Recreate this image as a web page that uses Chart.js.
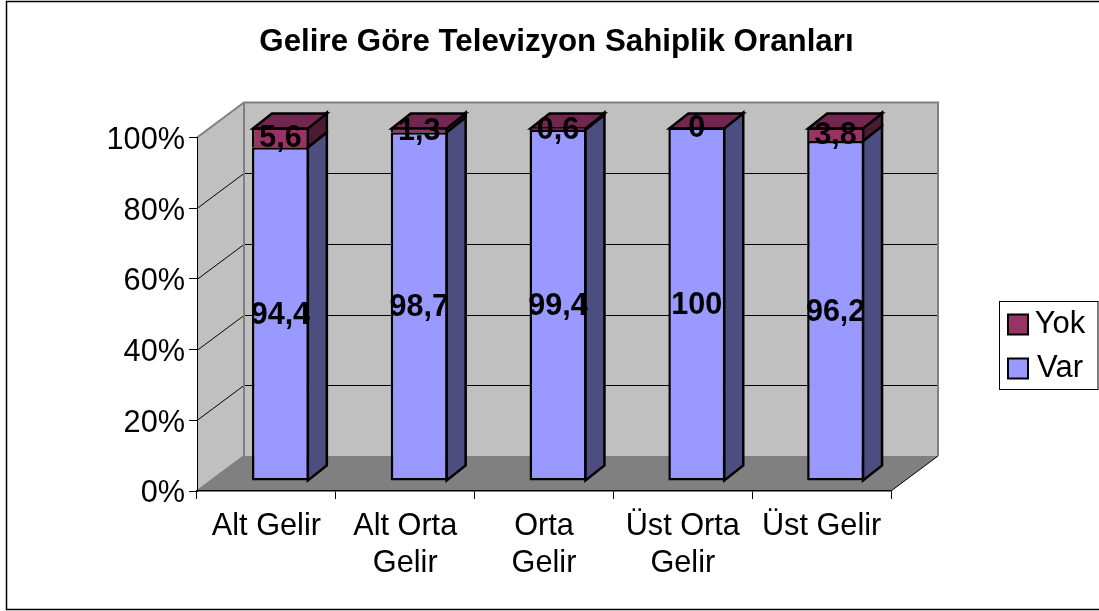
<!DOCTYPE html>
<html lang="tr">
<head>
<meta charset="utf-8">
<title>Gelire Göre Televizyon Sahiplik Oranları</title>
<style>html,body{margin:0;padding:0;background:#fff}canvas{display:block}</style>
<script src="https://cdn.jsdelivr.net/npm/chart.js@4"></script>
</head>
<body>
<canvas id="c" width="1099" height="611"></canvas>
<script>
const chartTitle = 'Gelire Göre Televizyon Sahiplik Oranları';
const categories = [['Alt Gelir'], ['Alt Orta', 'Gelir'], ['Orta', 'Gelir'], ['Üst Orta', 'Gelir'], ['Üst Gelir']];
const varValues = [94.4, 98.7, 99.4, 100, 96.2];
const yokValues = [5.6, 1.3, 0.6, 0, 3.8];
const yTicks = [0, 20, 40, 60, 80, 100];

const FONT = '"Liberation Sans", Arial, sans-serif';
const WALL = {dx: 47, dy: 35};      // depth of the plot box
const FRONT = {dx: 14, dy: 10};     // bars stand this far behind the front edge
const BAR = {dx: 19, dy: 15};       // depth of each bar
const LINE = 2.5;

const fmt = v => String(v).replace('.', ',');

function poly(ctx, pts, fill, stroke, lw) {
  ctx.beginPath();
  pts.forEach((p, i) => i ? ctx.lineTo(p[0], p[1]) : ctx.moveTo(p[0], p[1]));
  ctx.closePath();
  if (fill) { ctx.fillStyle = fill; ctx.fill(); }
  if (stroke) { ctx.strokeStyle = stroke; ctx.lineWidth = lw; ctx.lineJoin = 'miter'; ctx.stroke(); }
}

const box3d = {
  id: 'box3d',
  beforeDraw(chart) {
    const {ctx, chartArea: a, scales} = chart;
    const {left: L, right: R, top: T, bottom: B} = a;
    const {dx, dy} = WALL;
    ctx.save();
    ctx.fillStyle = '#fff';
    ctx.fillRect(0, 0, chart.width, chart.height);

    // outer frame
    ctx.strokeStyle = '#000';
    ctx.lineWidth = 1.5;
    ctx.beginPath();
    ctx.moveTo(1100, 1.5); ctx.lineTo(6.5, 1.5); ctx.lineTo(6.5, 609.5); ctx.lineTo(1100, 609.5);
    ctx.stroke();

    // walls and floor
    poly(ctx, [[L + dx, T - dy], [R + dx, T - dy], [R + dx, B - dy], [L + dx, B - dy]], '#c0c0c0');
    poly(ctx, [[L, T], [L + dx, T - dy], [L + dx, B - dy], [L, B]], '#c0c0c0');
    poly(ctx, [[L, B], [L + dx, B - dy], [R + dx, B - dy], [R, B]], '#808080');

    // grid lines on side wall and back wall
    ctx.strokeStyle = '#000';
    ctx.lineWidth = 1;
    yTicks.slice(1, -1).forEach(v => {
      const y = Math.round(scales.y.getPixelForValue(v)) + 0.5;
      ctx.beginPath();
      ctx.moveTo(L, y); ctx.lineTo(L + dx, y - dy); ctx.lineTo(R + dx, y - dy);
      ctx.stroke();
    });

    // wall edges
    ctx.strokeStyle = '#808080';
    ctx.lineWidth = 2;
    ctx.beginPath();
    ctx.moveTo(L, T); ctx.lineTo(L + dx, T - dy); ctx.lineTo(R + dx, T - dy); ctx.lineTo(R + dx, B - dy);
    ctx.moveTo(L + dx, T - dy); ctx.lineTo(L + dx, B - dy); ctx.lineTo(L, B);
    ctx.stroke();
    ctx.strokeStyle = '#000';
    ctx.lineWidth = 1;
    ctx.beginPath();
    ctx.moveTo(R, B); ctx.lineTo(R + dx, B - dy);
    ctx.stroke();

    // legend box
    ctx.fillStyle = '#fff';
    ctx.fillRect(999.5, 301.5, 98.5, 88);
    ctx.strokeStyle = '#000';
    ctx.lineWidth = 1;
    ctx.strokeRect(999.5, 301.5, 98.5, 88);
    ctx.restore();

    // place title and legend
    const t = chart.titleBlock;
    t.left = 0; t.right = 1113;
    const lg = chart.legend;
    lg.left = 995; lg.right = 1076.5; lg.top = 296; lg.bottom = 430;
    lg.draw = function () { this._draw(); };
  },
  beforeDatasetsDraw(chart) {
    const {ctx} = chart;
    ctx.save();
    ctx.translate(FRONT.dx, -FRONT.dy);
    const m0 = chart.getDatasetMeta(0), m1 = chart.getDatasetMeta(1);
    m0.data.forEach((bar, i) => {
      const top = m1.data[i];
      const r = bar.x + bar.width / 2 - 1, l = bar.x - bar.width / 2 + 1;
      const {dx, dy} = BAR;
      ctx.save();
      poly(ctx, [[r, bar.y], [r + dx, bar.y - dy], [r + dx, bar.base - dy], [r, bar.base]], '#4d4d80', '#000', LINE);
      if (top.base - top.y > 0.01) {
        poly(ctx, [[r, top.y], [r + dx, top.y - dy], [r + dx, top.base - dy], [r, top.base]], '#4d1a33', '#000', LINE);
      }
      poly(ctx, [[l, top.y + 1], [l + dx, top.y + 1 - dy], [r + dx, top.y + 1 - dy], [r, top.y + 1]], '#732650', '#000', LINE);
      ctx.restore();
    });
  },
  afterDatasetsDraw(chart) {
    const {ctx} = chart;
    ctx.fillStyle = '#000';
    ctx.font = 'bold 30.5px ' + FONT;
    ctx.textAlign = 'center';
    ctx.textBaseline = 'middle';
    chart.data.datasets.forEach((ds, d) => {
      chart.getDatasetMeta(d).data.forEach((el, i) => {
        ctx.fillText(fmt(ds.data[i]), el.x, (el.y + el.base) / 2 + 1.5);
      });
    });
    ctx.restore();
  }
};

new Chart(document.getElementById('c'), {
  type: 'bar',
  data: {
    labels: categories,
    datasets: [
      {label: 'Var', data: varValues, backgroundColor: '#9999ff', borderColor: '#000', borderWidth: LINE, borderSkipped: false, clip: false},
      {label: 'Yok', data: yokValues, backgroundColor: '#993366', borderColor: '#000', borderWidth: {top: LINE, left: LINE, right: LINE, bottom: 0}, borderSkipped: false, clip: false}
    ]
  },
  plugins: [box3d],
  options: {
    responsive: false,
    animation: false,
    devicePixelRatio: 1,
    layout: {padding: {left: 14, right: 208, top: 0, bottom: 0}},
    datasets: {bar: {barPercentage: 0.41, categoryPercentage: 1}},
    plugins: {
      tooltip: {enabled: false},
      title: {
        display: true, text: chartTitle, color: '#000',
        font: {family: FONT, size: 31.3, weight: 'bold', lineHeight: 1.2},
        padding: {top: 24, bottom: 76}
      },
      legend: {
        display: true, position: 'chartArea', align: 'start', reverse: true,
        labels: {
          color: '#000', font: {family: FONT, size: 31}, boxWidth: 20, boxHeight: 20,
          padding: 13, textAlign: 'center',
          generateLabels(chart) {
            return Chart.defaults.plugins.legend.labels.generateLabels(chart).map(it => Object.assign(it, {lineWidth: 2}));
          }
        }
      }
    },
    scales: {
      x: {
        stacked: true,
        afterFit(s) { s.height = 120; },
        grid: {display: true, offset: true, drawOnChartArea: false, drawTicks: true, tickLength: 8, color: '#000'},
        border: {display: true, color: '#000', width: 1.5},
        ticks: {color: '#000', font: {family: FONT, size: 30.7, lineHeight: 1.2}, maxRotation: 0, minRotation: 0, autoSkip: false, padding: 9}
      },
      y: {
        stacked: true, min: 0, max: 100,
        afterFit(s) { s.width = 183; },
        afterBuildTicks(s) { s.ticks = yTicks.map(v => ({value: v})); },
        grid: {display: true, drawOnChartArea: false, drawTicks: true, tickLength: 8, color: '#000'},
        border: {display: true, color: '#000', width: 1},
        ticks: {color: '#000', font: {family: FONT, size: 30.7}, padding: 4, labelOffset: 3, callback: v => v + '%'}
      }
    }
  }
});
</script>
</body>
</html>
